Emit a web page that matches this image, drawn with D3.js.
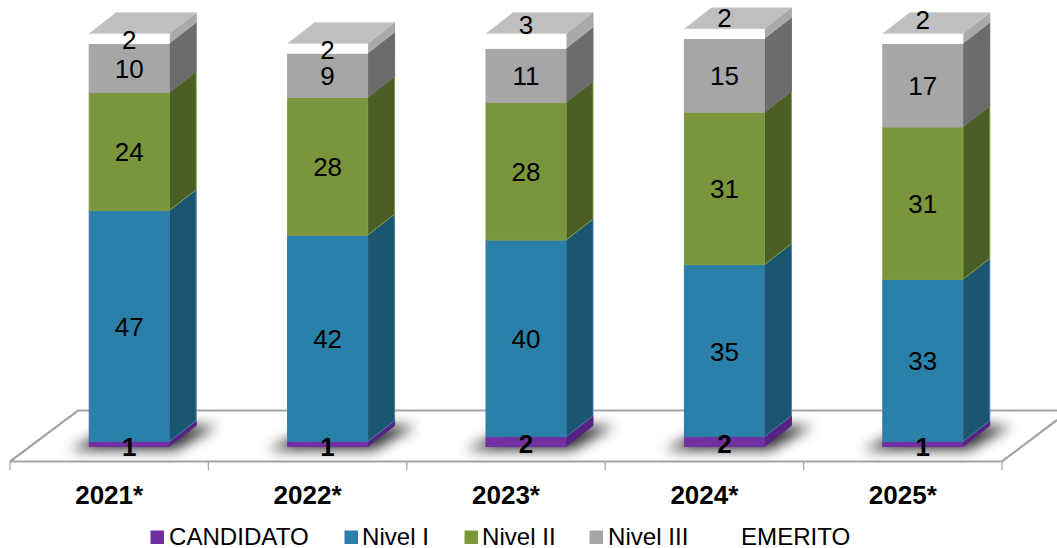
<!DOCTYPE html>
<html><head><meta charset="utf-8">
<script src="https://cdnjs.cloudflare.com/ajax/libs/d3/7.8.5/d3.min.js"></script>
<style>html,body{margin:0;padding:0;background:#fff}svg{display:block}text{font-family:"Liberation Sans",Arial,sans-serif;fill:#000}</style>
</head><body><svg id="c" width="1057" height="548"></svg>
<script>
const years=["2021*","2022*","2023*","2024*","2025*"];
const candidato=[1,1,2,2,1];
const nivel1=[47,42,40,35,33];
const nivel2=[24,28,28,31,31];
const nivel3=[10,9,11,15,17];
const emerito=[2,2,3,2,2];
const seriesNames=["CANDIDATO","Nivel I","Nivel II","Nivel III","EMERITO"];
const seriesValues=[candidato,nivel1,nivel2,nivel3,emerito];

const front=["#7030a0","#2980a9","#7a953b","#a6a6a6","#ffffff"];
const side=["#552382","#1a566f","#4b5e26","#6c6c6c","#a9a9a9"];
const edge=["#7030a0","#3d74a8","#7d9e3e","#a6a6a6","#ffffff"];
const sideEdge=["#552382","#4a7fb0","#7d9e3e","#6c6c6c","#a9a9a9"];
const topColor="#bfbfbf";
const dx=27,dy=-21,barW=80,barShift=20;
const floor={l:10,r:1002,front:461.5,back:410.5,tickEnd:470};

const svg=d3.select("#c");
const defs=svg.append("defs");
defs.append("filter").attr("id","blur").attr("x","-30%").attr("y","-60%").attr("width","160%").attr("height","220%")
  .append("feGaussianBlur").attr("stdDeviation",6.5);

const x=d3.scaleBand().domain(years).range([floor.l,floor.r]).paddingInner(0).paddingOuter(0);
const y=d3.scaleLinear().domain([0,84]).range([446.6,33.6]);

// floor
const flr=svg.append("g").attr("fill","none").attr("stroke","#a6a6a6").attr("stroke-width",2.2);
flr.append("path").attr("d",`M${floor.l},${floor.front}L78,${floor.back}L1057,${floor.back}`);
flr.append("path").attr("d",`M${floor.l},${floor.front}L${floor.r},${floor.front}L1057,420`);
flr.selectAll("line.t").data(years.concat(["end"])).join("line")
  .attr("x1",(d,i)=>floor.l+i*x.step()).attr("x2",(d,i)=>floor.l+i*x.step())
  .attr("y1",floor.front).attr("y2",floor.tickEnd).attr("stroke-width",1.3);

// shadows
const barX=d=>x(d)+x.bandwidth()/2+barShift-barW/2;
svg.append("g").selectAll("path").data(years).join("path")
  .attr("d",d=>{const a=barX(d);return `M${a-20},450L${a+86},450L${a+128},426L${a+30},426Z`;})
  .attr("fill","#000").attr("opacity",.8).attr("filter","url(#blur)");

// bars
const stacked=years.map((yr,i)=>{let acc=0;return seriesValues.map((s,k)=>{const o={yr,i,k,y0:acc,y1:acc+s[i],v:s[i]};acc+=s[i];return o;});});
const bars=svg.append("g").selectAll("g").data(stacked).join("g");
bars.selectAll("path.side").data(d=>d).join("path").attr("class","side")
  .attr("d",d=>{const r=barX(d.yr)+barW,a=y(d.y0),b=y(d.y1);return `M${r},${a}L${r+dx},${a+dy}L${r+dx},${b+dy}L${r},${b}Z`;})
  .attr("fill",d=>side[d.k]).attr("stroke",d=>sideEdge[d.k]).attr("stroke-width",1);
bars.selectAll("rect.front").data(d=>d).join("rect").attr("class","front")
  .attr("x",d=>barX(d.yr)).attr("width",barW).attr("y",d=>y(d.y1)).attr("height",d=>y(d.y0)-y(d.y1))
  .attr("fill",d=>front[d.k]).attr("stroke",d=>edge[d.k]).attr("stroke-width",1);
bars.append("path").attr("d",d=>{const t=d[4],l=barX(t.yr),p=y(t.y1);return `M${l},${p}L${l+dx},${p+dy}L${l+barW+dx},${p+dy}L${l+barW},${p}Z`;})
  .attr("fill",topColor).attr("stroke","#d0d0d0").attr("stroke-width",.6);

// data labels
const emeritoLabelY=[40,50,25,18,20];
svg.append("g").selectAll("g").data(stacked).join("g").selectAll("text").data(d=>d).join("text")
  .attr("x",d=>barX(d.yr)+barW/2)
  .attr("y",d=>d.k===4?emeritoLabelY[d.i]:d.k===0?y(0)-(d.v===1?0:3):(y(d.y0)+y(d.y1))/2+.5)
  .attr("dy","0.36em").attr("text-anchor","middle")
  .attr("font-size",26).attr("font-weight",d=>d.k===0?"bold":"normal")
  .text(d=>d.v);

// category labels
svg.append("g").selectAll("text").data(years).join("text")
  .attr("x",d=>x(d)+x.bandwidth()/2).attr("y",504).attr("text-anchor","middle")
  .attr("font-size",26).attr("font-weight","bold").text(d=>d);

// legend
const legendSwatchX=[151,345,465,590,null];
const legendTextX=[169,362,482,608,741];
const lg=svg.append("g").selectAll("g").data(seriesNames).join("g");
lg.filter((d,i)=>legendSwatchX[i]!==null).append("rect")
  .attr("x",(d,i)=>legendSwatchX[seriesNames.indexOf(d)]).attr("y",531).attr("width",12.5).attr("height",12.5)
  .attr("fill",d=>front[seriesNames.indexOf(d)]).attr("stroke",d=>edge[seriesNames.indexOf(d)]);
lg.append("text").attr("x",(d,i)=>legendTextX[i]).attr("y",544.5).attr("font-size",24.1).text(d=>d);
</script></body></html>
